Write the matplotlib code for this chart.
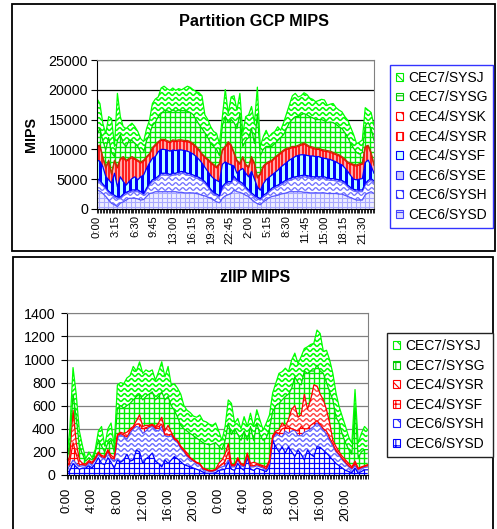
import numpy as np
import matplotlib
matplotlib.use('Agg')
import matplotlib.pyplot as plt
from matplotlib.collections import LineCollection
from matplotlib.patches import Patch, Rectangle
from matplotlib.ticker import MultipleLocator

plt.rcParams['font.family'] = ['Liberation Sans', 'DejaVu Sans']
plt.rcParams['hatch.linewidth'] = 0.8

W, H = 497, 529

# half-hour samples over two days
hours = np.arange(96) * 0.5

# ---- Partition GCP MIPS ----
gcp_sysd = [3200, 3000, 2600, 2100, 1500, 950, 700, 400, 1000, 1200, 1500, 1800,
            1800, 1800, 1700, 1500, 1600, 2100, 2600, 2700, 2900, 2900, 2900, 2900,
            2900, 2900, 2900, 2900, 2800, 2800, 2700, 2700, 2700, 2700, 2600, 2500,
            2300, 2200, 2000, 1800, 1500, 1200, 1050, 1800, 2200, 2400, 2600, 3200,
            2900, 2800, 2600, 2300, 2100, 1600, 1200, 900, 700, 1200, 1500, 1900,
            2100, 2200, 2300, 2500, 2600, 2700, 2900, 2900, 2900, 2900, 2900, 2800,
            2800, 2700, 2700, 2700, 2700, 2700, 2700, 2600, 2600, 2600, 2600, 2500,
            2500, 2300, 2100, 1900, 1700, 1500, 1500, 1500, 2400, 2700, 2900, 2600]
gcp_sysh = [1600, 1500, 1300, 1300, 1200, 1350, 1300, 1300, 700, 1000, 1000, 900,
            1100, 1100, 1200, 1100, 700, 1100, 1400, 1900, 1900, 2300, 2800, 2800,
            2800, 2600, 2800, 2800, 3100, 3200, 3200, 3000, 2900, 2700, 2600, 2500,
            2400, 2100, 1700, 1200, 1000, 1000, 950, 1700, 1800, 1900, 1700, 2000,
            1700, 1500, 1400, 1100, 800, 800, 800, 800, 800, 800, 800, 900,
            1100, 1300, 1400, 1500, 1700, 1900, 1900, 2100, 2200, 2300, 2400, 2600,
            2500, 2500, 2400, 2400, 2400, 2400, 2400, 2300, 2200, 2200, 2100, 2100,
            2000, 1900, 1600, 1400, 1300, 1400, 1400, 1400, 1600, 1800, 1900, 1800]
gcp_syse = [300, 300, 300, 250, 300, 300, 300, 300, 300, 300, 300, 300,
            300, 300, 300, 300, 300, 300, 300, 300, 300, 300, 300, 300,
            300, 300, 300, 300, 300, 300, 300, 300, 300, 300, 300, 300,
            300, 300, 300, 300, 300, 300, 250, 300, 300, 300, 300, 300,
            300, 300, 300, 300, 300, 300, 300, 300, 250, 300, 300, 300,
            300, 300, 300, 300, 300, 300, 300, 300, 300, 300, 300, 300,
            300, 300, 300, 300, 300, 300, 300, 300, 300, 300, 300, 300,
            300, 300, 300, 300, 300, 300, 300, 300, 300, 300, 300, 300]
gcp_sysf = [3100, 3200, 2900, 1800, 1900, 1700, 3700, 1700, 3400, 2100, 1200, 1600,
            1900, 2200, 1700, 2500, 3100, 3300, 3400, 3600, 3700, 4100, 4000, 4000,
            3900, 3900, 3900, 3800, 3700, 3600, 3600, 3700, 3600, 3500, 3300, 3000,
            2700, 2400, 2300, 2300, 2300, 2300, 2300, 3700, 3600, 3000, 2800, 1700,
            1100, 1900, 2500, 2300, 2200, 3600, 2700, 1700, 1400, 1900, 2300, 2200,
            2200, 2300, 2500, 2700, 2800, 2900, 3100, 3200, 3400, 3500, 3500, 3400,
            3400, 3400, 3500, 3400, 3400, 3200, 3100, 3200, 3200, 3000, 2900, 2700,
            2600, 2400, 2300, 2000, 1700, 1700, 1800, 1900, 3500, 3400, 2100, 1300]
gcp_sysr = [2200, 2500, 1500, 1400, 3100, 1500, 2000, 3200, 2900, 4000, 4000, 3700,
            3500, 2900, 3100, 2300, 2300, 1800, 1400, 1600, 1800, 1500, 1500, 1500,
            1400, 1400, 1500, 1500, 1500, 1500, 1500, 1600, 1600, 1600, 1500, 1500,
            1400, 1600, 1900, 2100, 2200, 2100, 2900, 2300, 2400, 3500, 3200, 2100,
            2000, 1000, 1800, 1300, 1500, 2300, 2500, 1500, 2600, 2800, 2600, 2500,
            2300, 2400, 2400, 2300, 2300, 2200, 1900, 1800, 1500, 1500, 1600, 1800,
            1600, 1400, 1300, 1200, 1200, 1200, 1200, 1200, 1200, 1200, 1200, 1300,
            1200, 1300, 1400, 1900, 2300, 2300, 2400, 2400, 2500, 2300, 2100, 1300]
gcp_sysk = [200, 200, 150, 200, 200, 150, 200, 200, 200, 200, 200, 200,
            200, 200, 200, 200, 200, 200, 200, 200, 250, 200, 200, 200,
            200, 200, 200, 200, 200, 200, 200, 200, 200, 200, 200, 200,
            200, 200, 200, 200, 200, 200, 200, 200, 250, 200, 200, 200,
            200, 200, 200, 200, 200, 200, 200, 150, 200, 200, 200, 200,
            200, 200, 200, 200, 200, 200, 200, 200, 200, 200, 200, 200,
            200, 200, 200, 200, 200, 200, 200, 200, 200, 200, 200, 200,
            200, 200, 200, 200, 200, 200, 200, 200, 200, 200, 200, 200]
gcp_sysg = [1900, 2800, 2700, 2900, 3800, 3500, 600, 4400, 4000, 2200, 2300, 3000,
            2700, 2500, 2300, 1600, 1300, 2700, 3200, 3700, 3700, 4200, 4300, 4800,
            5000, 5000, 5000, 4900, 5000, 4900, 5000, 4900, 4900, 4800, 4500, 4200,
            4200, 4000, 3600, 3100, 3000, 2900, 1300, 4000, 5000, 3200, 4200, 5000,
            5300, 8300, 1700, 4000, 4900, 4700, 3300, 10600, 3000, 2800, 2800, 2500,
            2300, 2300, 2400, 2500, 2600, 3300, 4200, 4500, 5000, 4800, 4900, 4900,
            5000, 5000, 4900, 4800, 4800, 5000, 4900, 4700, 4900, 5000, 4900, 4700,
            4700, 4400, 4100, 3300, 2700, 2100, 1600, 1800, 3500, 3800, 4000, 4000]
gcp_sysj = [6000, 4200, 2900, 2700, 3500, 5700, 1700, 7900, 3000, 2800, 3000, 2500,
            2900, 2800, 2500, 2300, 1800, 2000, 2400, 3700, 3900, 3300, 4300, 4100,
            3700, 3600, 3700, 3500, 3600, 3500, 3800, 4200, 4200, 4200, 4700, 5300,
            5500, 3000, 3000, 2800, 2500, 2700, 2000, 1500, 4500, 1500, 3800, 4500,
            3100, 3400, 2200, 4000, 3800, 3700, 3400, 4500, 1500, 2100, 2700, 1600,
            2200, 2000, 2300, 1200, 2000, 2500, 3000, 4000, 3900, 3300, 3200, 3500,
            3400, 3100, 3100, 3000, 3200, 3400, 3500, 2900, 3000, 3200, 2800, 2800,
            2800, 2700, 2900, 2700, 2300, 1500, 2000, 2100, 3000, 2100, 2700, 2500]
gcp_ticks = ['0:00', '3:15', '6:30', '9:45', '13:00', '16:15', '19:30', '22:45',
             '2:00', '5:15', '8:30', '11:45', '15:00', '18:15', '21:30']

# ---- zIIP MIPS ----
ziip_sysd = [15, 40, 100, 70, 50, 60, 60, 80, 60, 100, 150, 100,
             90, 150, 110, 60, 130, 110, 130, 180, 120, 130, 215, 200,
             100, 140, 160, 190, 120, 100, 70, 130, 100, 130, 160, 140,
             115, 90, 80, 70, 60, 50, 40, 25, 15, 15, 15, 20,
             40, 45, 50, 115, 50, 40, 100, 60, 40, 150, 50, 40,
             60, 50, 40, 30, 70, 300, 245, 200, 245, 190, 245, 200,
             160, 215, 180, 130, 215, 180, 160, 245, 240, 215, 190, 160,
             130, 100, 80, 60, 40, 30, 20, 60, 15, 30, 45, 45]
ziip_sysh = [30, 40, 30, 30, 25, 20, 20, 30, 30, 30, 30, 50,
             50, 50, 30, 60, 190, 240, 200, 130, 240, 270, 205, 210,
             260, 240, 250, 230, 270, 280, 350, 210, 230, 210, 140, 140,
             115, 110, 80, 70, 60, 50, 50, 25, 25, 15, 15, 20,
             20, 25, 30, 15, 20, 30, 30, 20, 30, 20, 20, 30,
             20, 20, 20, 15, 30, 10, 115, 140, 85, 190, 115, 180,
             230, 125, 160, 240, 165, 220, 260, 205, 180, 175, 160, 140,
             120, 100, 90, 70, 60, 40, 30, 20, 30, 30, 20, 25]
ziip_sysf = [15, 40, 150, 80, 15, 10, 5, 5, 10, 10, 10, 10,
             10, 10, 10, 20, 20, 10, 15, 20, 20, 10, 20, 30,
             40, 30, 10, 10, 20, 40, 20, 10, 15, 15, 10, 10,
             10, 10, 10, 5, 5, 5, 5, 5, 5, 5, 5, 5,
             10, 20, 40, 70, 10, 10, 10, 10, 10, 10, 10, 10,
             10, 10, 10, 10, 10, 10, 10, 20, 70, 30, 60, 20,
             0, 40, 80, 30, 20, 30, 30, 20, 20, 10, 30, 20,
             20, 10, 10, 10, 10, 10, 10, 20, 5, 5, 10, 10]
ziip_sysr = [20, 50, 280, 100, 40, 10, 10, 10, 10, 10, 10, 10,
             10, 10, 20, 10, 10, 10, 15, 40, 20, 10, 30, 80,
             20, 20, 10, 10, 10, 30, 60, 30, 85, 15, 10, 10,
             10, 10, 20, 5, 5, 5, 5, 5, 5, 5, 5, 5,
             30, 40, 60, 70, 10, 10, 10, 10, 10, 10, 20, 30,
             10, 10, 10, 15, 20, 20, 10, 30, 50, 10, 60, 170,
             210, 120, 100, 300, 170, 220, 330, 300, 260, 250, 185, 130,
             30, 35, 20, 20, 20, 20, 10, 20, 10, 5, 5, 10]
ziip_sysg = [40, 110, 140, 220, 120, 80, 25, 25, 20, 50, 100, 80,
             40, 60, 130, 50, 230, 230, 220, 230, 220, 230, 210, 180,
             230, 250, 270, 280, 230, 230, 220, 270, 250, 230, 240, 200,
             180, 180, 190, 210, 210, 210, 200, 220, 220, 220, 230, 230,
             150, 90, 120, 180, 260, 310, 200, 200, 290, 110, 320, 190,
             350, 260, 220, 250, 270, 210, 220, 230, 200, 260, 220, 180,
             250, 300, 260, 200, 310, 250, 120, 180, 200, 230, 235, 270,
             350, 255, 250, 190, 150, 120, 110, 480, 90, 130, 140, 130]
ziip_sysj = [20, 120, 230, 200, 130, 70, 20, 50, 20, 20, 80, 170,
             50, 120, 150, 50, 200, 200, 210, 240, 240, 290, 220, 280,
             230, 230, 195, 190, 170, 215, 260, 200, 260, 180, 230, 250,
             270, 200, 180, 180, 170, 180, 220, 190, 190, 180, 160, 170,
             130, 80, 120, 200, 270, 50, 140, 100, 125, 120, 115, 120,
             115, 125, 90, 130, 120, 160, 195, 260, 245, 245, 195, 245,
             205, 165, 245, 195, 230, 230, 240, 305, 325, 190, 280, 275,
             230, 210, 140, 155, 140, 110, 95, 140, 125, 160, 200, 170]
ziip_ticks = ['0:00', '4:00', '8:00', '12:00', '16:00', '20:00',
              '0:00', '4:00', '8:00', '12:00', '16:00', '20:00']


def add_pattern(ax, coll, kind, color, step, lw, amp=1.3, period=7.0):
    # pattern lines drawn in pixel units and clipped to one stacked band
    bb = ax.get_position()
    w, h = bb.width * W, bb.height * H
    segs = []
    if kind in ('grid', 'vert'):
        for px in np.arange(step / 2, w, step):
            segs.append([(px / w, 0), (px / w, 1)])
    if kind == 'grid':
        for py in np.arange(step / 2, h, step):
            segs.append([(0, py / h), (1, py / h)])
    if kind == 'wave':
        xs = np.linspace(0, w, int(w * 3))
        for py in np.arange(0, h + step, step):
            ys = py + amp * np.sin(2 * np.pi * xs / period)
            segs.append(np.column_stack([xs / w, ys / h]))
    if kind == 'diag':
        for c in np.arange(-h, w, step):
            segs.append([(c / w, 1), ((c + h) / w, 0)])
    lc = LineCollection(segs, colors=color, linewidths=lw * 0.72,
                        transform=ax.transAxes)
    lc.set_clip_path(coll.get_paths()[0], ax.transData)
    ax.add_collection(lc, autolim=False)


def draw_stack(ax, series, styles):
    colls = ax.stackplot(hours, *series, colors=[s['face'] for s in styles],
                         linewidth=0)
    for coll, st in zip(colls, styles):
        add_pattern(ax, coll, st['kind'], st['hatch'], st['step'], st['lw'])
    tops = np.cumsum(np.array(series, dtype=float), axis=0)
    for top, st in zip(tops, styles):
        ax.plot(hours, top, color=st['line'], lw=0.9)


def style_axes(ax, ymax, ystep, grid_color, labels, label_step, xfs, xpad, ypad):
    ax.set_xlim(0, 47.5)
    ax.set_ylim(0, ymax)
    ax.yaxis.set_major_locator(MultipleLocator(ystep))
    ax.yaxis.grid(True, color=grid_color, lw=0.9)
    ax.set_axisbelow(True)
    ax.set_xticks(np.arange(len(labels)) * label_step)
    ax.set_xticklabels(labels, rotation=90, fontsize=xfs)
    ax.xaxis.set_minor_locator(MultipleLocator(0.25))
    ax.tick_params(axis='x', which='both', length=3, width=0.6, pad=xpad)
    ax.tick_params(axis='y', length=4, width=0.8, pad=ypad, labelsize=10.3)
    for side in ('top', 'right'):
        ax.spines[side].set_color('#808080')
    for side in ('left', 'bottom'):
        ax.spines[side].set_color('black')


fig = plt.figure(figsize=(W / 100, H / 100), dpi=100)

# outer chart frames
fig.add_artist(Rectangle((11.7 / W, 1 - 250.7 / H), 483.3 / W, 246.7 / H,
                         transform=fig.transFigure, fill=False, ec='black', lw=1.3))
fig.add_artist(Rectangle((12.7 / W, -0.01), 480.6 / W, (529 - 256.7) / H + 0.01,
                         transform=fig.transFigure, fill=False, ec='black', lw=1.3))

ax1 = fig.add_axes([97 / W, 1 - 209 / H, 277 / W, 149 / H])
gcp_styles = [
    dict(face='#eeeeff', hatch='#a8a8ff', kind='grid', step=4.5, lw=1.1, line='#5555ff'),
    dict(face='#ffffff', hatch='#7070ff', kind='wave', step=5.0, lw=1.3, line='#6666ff'),
    dict(face='#ccccff', hatch='#3333ff', kind='vert', step=4.0, lw=1.5, line='#0000ff'),
    dict(face='#b8ffff', hatch='#0000ff', kind='vert', step=6.0, lw=3.0, line='#0000ff'),
    dict(face='#ffaaaa', hatch='#ff0000', kind='vert', step=3.4, lw=1.6, line='#ff0000'),
    dict(face='#ffaaaa', hatch='#ff0000', kind='diag', step=4.0, lw=1.0, line='#aa4400'),
    dict(face='#ffffff', hatch='#00ee00', kind='grid', step=5.0, lw=1.4, line='#00dd00'),
    dict(face='#ffffff', hatch='#00ff00', kind='wave', step=5.0, lw=1.6, line='#00ff00'),
]
draw_stack(ax1, [gcp_sysd, gcp_sysh, gcp_syse, gcp_sysf, gcp_sysr, gcp_sysk,
                 gcp_sysg, gcp_sysj], gcp_styles)
style_axes(ax1, 25000, 5000, 'black', gcp_ticks, 3.25, 8.1, 1.5, 2.5)

ax2 = fig.add_axes([66.7 / W, 1 - 475 / H, 301 / W, 161.7 / H])
ziip_styles = [
    dict(face='#ffffff', hatch='#0000ff', kind='grid', step=5.0, lw=1.2, line='#0000ff'),
    dict(face='#ffffff', hatch='#6a6aff', kind='wave', step=5.0, lw=1.4, line='#5555ff'),
    dict(face='#ffffff', hatch='#ff0000', kind='grid', step=5.0, lw=1.2, line='#ff0000'),
    dict(face='#ffffff', hatch='#ff4040', kind='wave', step=5.0, lw=1.4, line='#ff0000'),
    dict(face='#ffffff', hatch='#00ee00', kind='grid', step=5.0, lw=1.4, line='#00dd00'),
    dict(face='#ffffff', hatch='#00ff00', kind='wave', step=5.0, lw=1.6, line='#00ff00'),
]
draw_stack(ax2, [ziip_sysd, ziip_sysh, ziip_sysf, ziip_sysr, ziip_sysg, ziip_sysj],
           ziip_styles)
style_axes(ax2, 1400, 200, '#808080', ziip_ticks, 4, 9.4, 6.5, 4)

fig.text(254 / W, 1 - 22 / H, 'Partition GCP MIPS', ha='center', va='center',
         fontsize=11.7, fontweight='bold')
fig.text(255 / W, 1 - 277.5 / H, 'zIIP MIPS', ha='center', va='center',
         fontsize=11.4, fontweight='bold')
fig.text(31 / W, 1 - 135 / H, 'MIPS', ha='center', va='center', rotation=90,
         fontsize=10.3, fontweight='bold')

gcp_legend = [
    ('CEC7/SYSJ', 'white', '#00ee00', '\\\\\\'),
    ('CEC7/SYSG', 'white', '#00cc00', '++'),
    ('CEC4/SYSK', 'white', '#ff0000', '\\\\\\'),
    ('CEC4/SYSR', 'white', '#ff0000', '|||'),
    ('CEC4/SYSF', '#ccffff', '#0000ff', '||'),
    ('CEC6/SYSE', '#ccccff', '#2222ff', '||'),
    ('CEC6/SYSH', 'white', '#3333ff', '\\\\\\'),
    ('CEC6/SYSD', '#ddddff', '#4444ff', '++'),
]
ziip_legend = [
    ('CEC7/SYSJ', 'white', '#00ee00', '\\\\\\'),
    ('CEC7/SYSG', 'white', '#00cc00', '++'),
    ('CEC4/SYSR', 'white', '#ff0000', '\\\\\\'),
    ('CEC4/SYSF', 'white', '#ff0000', '++'),
    ('CEC6/SYSH', 'white', '#2222ff', '\\\\\\'),
    ('CEC6/SYSD', 'white', '#0000ff', '++'),
]


def add_legend(entries, box, edge):
    x0, y0, x1, y1 = box
    handles = [Patch(facecolor=fc, edgecolor=ec, hatch=ht, lw=0.8)
               for _, fc, ec, ht in entries]
    leg = fig.legend(handles, [e[0] for e in entries], loc='upper left',
                     bbox_to_anchor=(x0 / W, 1 - y1 / H, (x1 - x0) / W, (y1 - y0) / H),
                     mode='expand', borderaxespad=0, fontsize=10, fancybox=False,
                     framealpha=1, edgecolor=edge, borderpad=0.42, labelspacing=0.4,
                     handlelength=0.5, handleheight=0.5, handletextpad=0.4)
    leg.get_frame().set_linewidth(1.0)


add_legend(gcp_legend, (390, 65, 493.3, 225.7), '#3333ff')
add_legend(ziip_legend, (387.3, 333.3, 493.3, 455), '#222222')

fig.savefig('out.png', dpi=100)
